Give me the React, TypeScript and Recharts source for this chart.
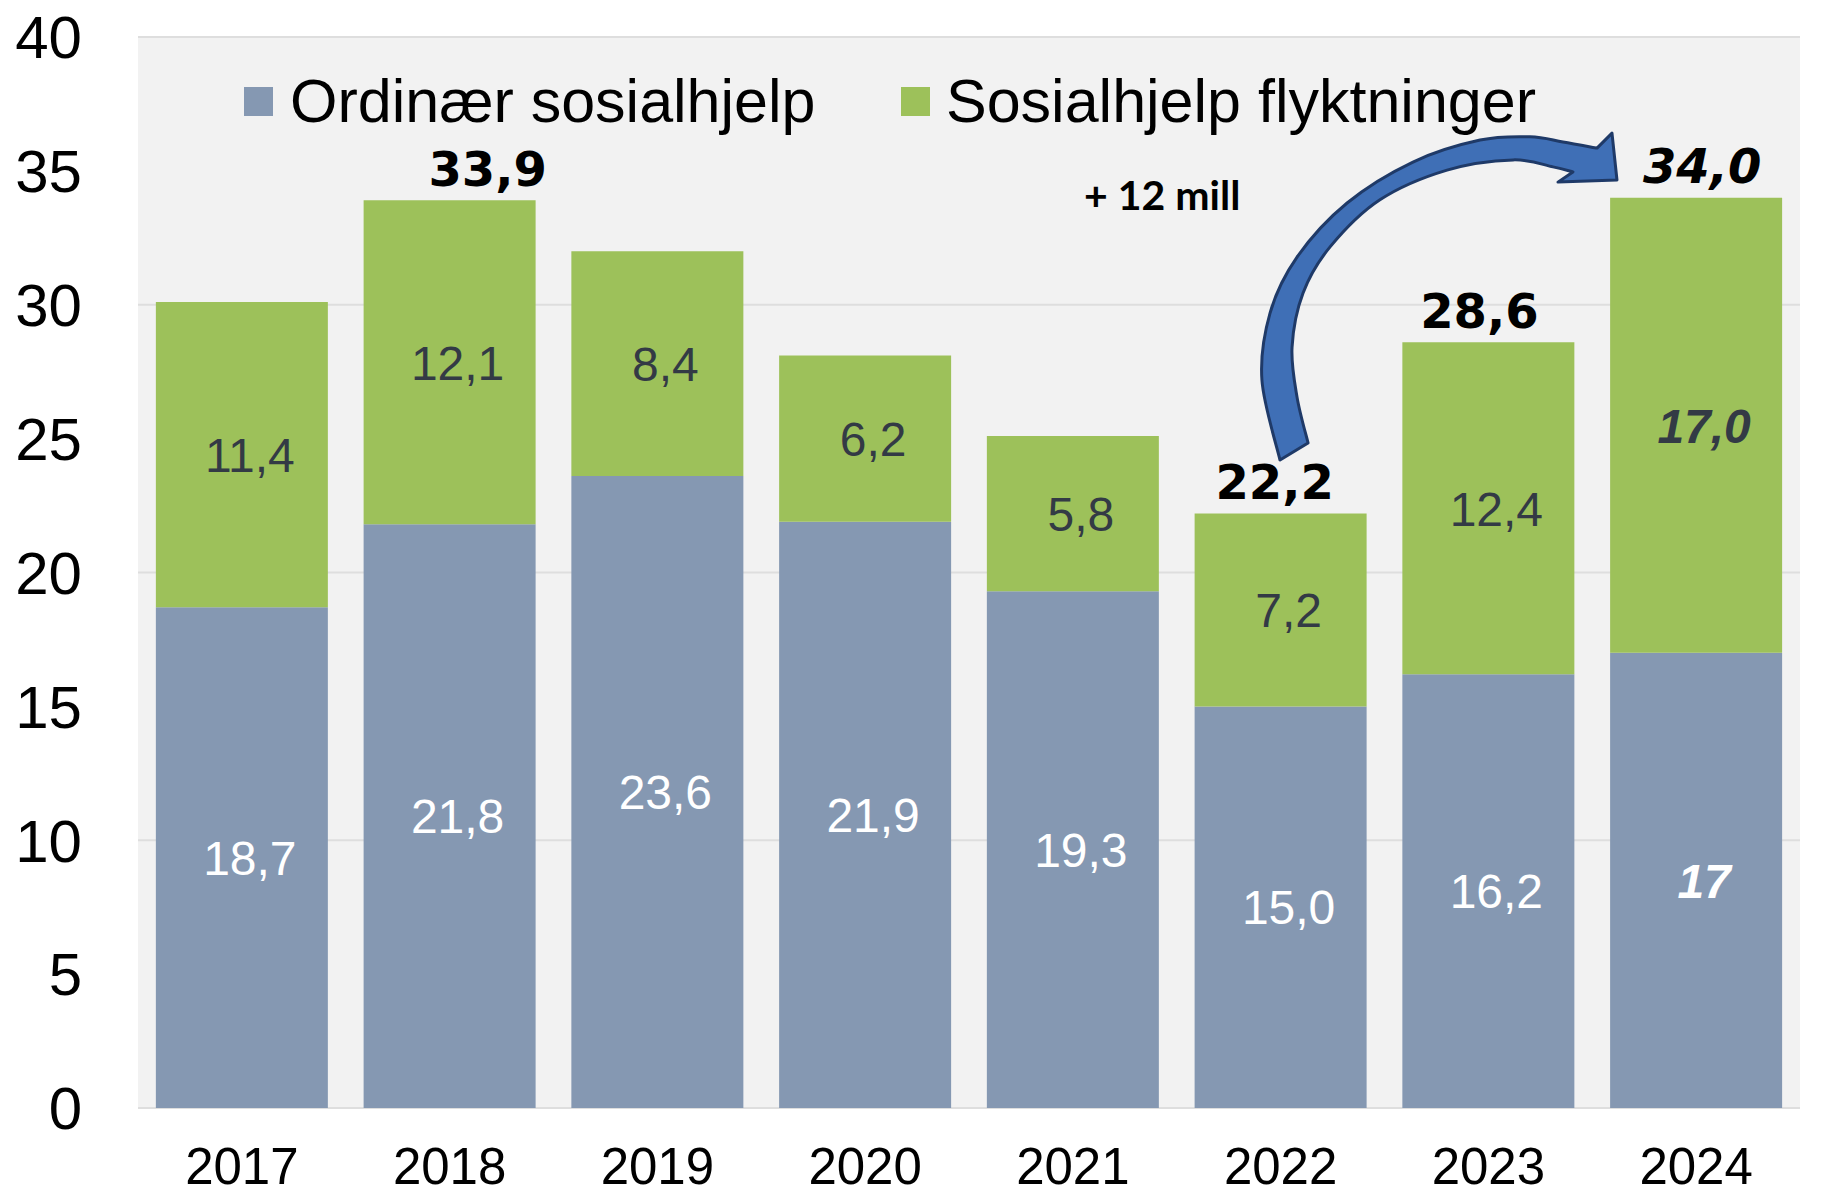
import React from 'react';
import { BarChart, Bar, XAxis, YAxis, CartesianGrid, LabelList, Legend, ReferenceArea } from 'recharts';

// ---------- data ----------
const years = ['2017', '2018', '2019', '2020', '2021', '2022', '2023', '2024'];
const ordinary = [18.7, 21.8, 23.6, 21.9, 19.3, 15.0, 16.2, 17];
const refugees = [11.4, 12.1, 8.4, 6.2, 5.8, 7.2, 12.4, 17.0];
const ordinaryLabels = ['18,7', '21,8', '23,6', '21,9', '19,3', '15,0', '16,2', '17'];
const refugeeLabels = ['11,4', '12,1', '8,4', '6,2', '5,8', '7,2', '12,4', '17,0'];
const totalLabelYears = ['2018', '2022', '2023', '2024'];
const emphasizedYear = '2024';
const yTicks = [0, 5, 10, 15, 20, 25, 30, 35, 40];
const gridValues = [0, 10, 20, 30, 40];
const seriesNames = ['Ordinær sosialhjelp', 'Sosialhjelp flyktninger'];
const annotationText = '+ 12 mill';
// annotation anchor in data units: [category position (band units from first band start), value]
const annotationAnchor = [4.93, 34.1];
// curved arrow outline in data units: [category position, value]
const arrowOuter = [
  [5.497, 24.2], [5.41, 27.19], [5.449, 29.69], [5.579, 31.78], [5.82, 33.8],
  [6.137, 35.33], [6.46, 36.15], [6.7, 36.27], [6.859, 36.08], [7.023, 35.85],
];
const arrowHead = [[7.095, 36.41], [7.119, 34.66], [6.835, 34.58]];
const arrowInner = [
  [6.907, 34.96], [6.811, 35.15], [6.619, 35.41], [6.301, 35.03], [5.978, 33.92],
  [5.738, 32.16], [5.608, 30.44], [5.555, 28.42], [5.579, 26.55], [5.632, 24.84],
];

const data = years.map((year, i) => ({
  year,
  ordinary: ordinary[i],
  refugees: refugees[i],
  total: Math.round((ordinary[i] + refugees[i]) * 10) / 10,
}));

// ---------- styles ----------
const BLUE = '#8598b2';
const GREEN = '#9dc15a';
const SANS = "'Liberation Sans', Arial, sans-serif";
const totalShift: Record<string, number> = { '2018': 38, '2022': -6, '2023': -9, '2024': 6 };

const fmt = (v: number) => v.toFixed(1).replace('.', ',');

function box(p: any) {
  const vb = p.viewBox || {};
  return {
    x: vb.x ?? p.x,
    y: vb.y ?? p.y,
    width: vb.width ?? p.width,
    height: vb.height ?? p.height,
  };
}

const segmentLabel = (labels: string[], color: string) => (p: any) => {
  const { x, y, width, height } = box(p);
  const i = p.index;
  if (x == null || i == null) return null;
  const emph = years[i] === emphasizedYear;
  return (
    <text
      x={x + width / 2 + 8}
      y={y + height / 2}
      dy="0.36em"
      textAnchor="middle"
      fontSize={48}
      fontFamily={SANS}
      fontWeight={emph ? 'bold' : 'normal'}
      fontStyle={emph ? 'italic' : 'normal'}
      fill={color}
    >
      {labels[i]}
    </text>
  );
};

const totalLabel = (p: any) => {
  const { x, y, width } = box(p);
  const i = p.index;
  if (x == null || i == null) return null;
  const yr = years[i];
  if (!totalLabelYears.includes(yr)) return null;
  const emph = yr === emphasizedYear;
  return (
    <text
      x={x + width / 2 + (totalShift[yr] || 0)}
      y={y - 32}
      dy="0.36em"
      textAnchor="middle"
      fontSize={48}
      fontFamily="'DejaVu Sans', Verdana, sans-serif"
      fontWeight="bold"
      fontStyle={emph ? 'italic' : 'normal'}
      fill="#000"
    >
      {fmt(data[i].total)}
    </text>
  );
};

function smooth(pts: number[][]) {
  let d = '';
  for (let i = 0; i < pts.length - 1; i++) {
    const p0 = pts[i - 1] || pts[i];
    const p1 = pts[i];
    const p2 = pts[i + 1];
    const p3 = pts[i + 2] || p2;
    const c1x = p1[0] + (p2[0] - p0[0]) / 6;
    const c1y = p1[1] + (p2[1] - p0[1]) / 6;
    const c2x = p2[0] - (p3[0] - p1[0]) / 6;
    const c2y = p2[1] - (p3[1] - p1[1]) / 6;
    d += ` C${c1x},${c1y} ${c2x},${c2y} ${p2[0]},${p2[1]}`;
  }
  return d;
}

const AnnotationShape = (props: any) => {
  const { x, y, width, height } = props;
  if (x == null || width == null) return null;
  const yMax = yTicks[yTicks.length - 1];
  const X = (c: number) => x + (c * width) / years.length;
  const Y = (v: number) => y + height * (1 - v / yMax);
  const toPx = (pts: number[][]) => pts.map(([c, v]) => [X(c), Y(v)]);
  const outer = toPx(arrowOuter);
  const head = toPx(arrowHead);
  const inner = toPx(arrowInner);
  let d = `M${outer[0][0]},${outer[0][1]}` + smooth(outer);
  head.forEach((p) => (d += ` L${p[0]},${p[1]}`));
  d += ` L${inner[0][0]},${inner[0][1]}` + smooth(inner) + ' Z';
  return (
    <g>
      <path d={d} fill="#3f6fb6" stroke="#1f3a68" strokeWidth={3} strokeLinejoin="round" />
      <text
        x={X(annotationAnchor[0])}
        y={Y(annotationAnchor[1])}
        dy="0.36em"
        textAnchor="middle"
        fontSize={41}
        fontWeight="bold"
        fontFamily="Lato, 'Open Sans', sans-serif"
        fill="#000"
      >
        {annotationText}
      </text>
    </g>
  );
};

const LegendContent = () => {
  const colors = [BLUE, GREEN];
  const squareLeft = [244, 901];
  const textLeft = [290, 946];
  return (
    <div style={{ position: 'relative', width: 1824, height: 70, fontFamily: SANS, fontSize: 61, color: '#000' }}>
      {seriesNames.map((name, i) => (
        <React.Fragment key={name}>
          <div style={{ position: 'absolute', left: squareLeft[i], top: 21, width: 29, height: 29, background: colors[i] }} />
          <div style={{ position: 'absolute', left: textLeft[i], top: 0, lineHeight: '70px', whiteSpace: 'nowrap' }}>{name}</div>
        </React.Fragment>
      ))}
    </div>
  );
};

export default function App() {
  return (
    <div style={{ position: 'absolute', left: 0, top: 0, width: 1824, height: 1196, background: '#ffffff' }}>
      <BarChart
        width={1824}
        height={1196}
        data={data}
        margin={{ top: 37, right: 24, bottom: 0, left: 0 }}
        barCategoryGap="8.6%"
      >
        <CartesianGrid
          vertical={false}
          fill="#f2f2f2"
          stroke="#dedede"
          strokeWidth={2}
          horizontalValues={gridValues}
        />
        <XAxis
          dataKey="year"
          height={88}
          axisLine={false}
          tickLine={false}
          tickSize={0}
          tickMargin={40}
          interval={0}
          tick={{ fontSize: 51, fill: '#000', fontFamily: SANS }}
        />
        <YAxis
          domain={[0, 40]}
          ticks={yTicks}
          width={138}
          axisLine={false}
          tickLine={false}
          tickSize={0}
          tickMargin={56}
          tick={{ fontSize: 60, fill: '#000', fontFamily: SANS }}
        />
        <Legend
          layout="horizontal"
          verticalAlign="middle"
          align="center"
          content={LegendContent}
          wrapperStyle={{ position: 'absolute', left: 0, top: 66, width: 1824, height: 70 }}
        />
        <Bar dataKey="ordinary" stackId="a" fill={BLUE} isAnimationActive={false} name={seriesNames[0]}>
          <LabelList dataKey="ordinary" content={segmentLabel(ordinaryLabels, '#ffffff')} />
        </Bar>
        <Bar dataKey="refugees" stackId="a" fill={GREEN} isAnimationActive={false} name={seriesNames[1]}>
          <LabelList dataKey="refugees" content={segmentLabel(refugeeLabels, '#333a45')} />
          <LabelList dataKey="total" content={totalLabel} />
        </Bar>
        <ReferenceArea
          x1={years[0]}
          x2={years[years.length - 1]}
          y1={0}
          y2={40}
          ifOverflow="visible"
          shape={AnnotationShape}
        />
      </BarChart>
    </div>
  );
}
